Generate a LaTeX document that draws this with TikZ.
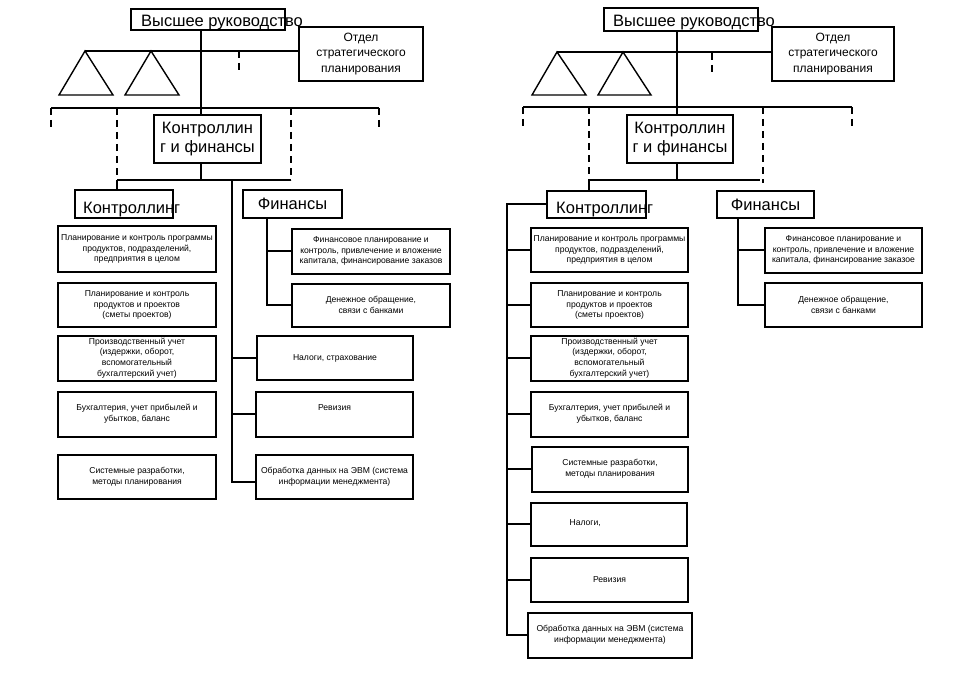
\documentclass[tikz,border=0pt]{standalone}
\usepackage{fontspec}
\setmainfont{Liberation Sans}
\usepackage{tikz}

\begin{document}
\begin{tikzpicture}[x=1pt,y=-1pt,
  box/.style={draw,line width=2pt,inner sep=0pt},
  bigtxt/.style={font=\fontsize{16.5}{19.5}\selectfont,align=center},
  midtxt/.style={font=\fontsize{12}{15.5}\selectfont,align=center},
  smalltxt/.style={font=\fontsize{8.6}{10.8}\selectfont,align=center},
  itembox/.style={box,smalltxt,minimum width=158pt,minimum height=45pt},
  conn/.style={line width=2pt},
  dconn/.style={line width=1.8pt,dash pattern=on 7pt off 5pt},
  tri/.style={line width=1.4pt}]
  \useasboundingbox (0,0) rectangle (958,682);

  % left chart, top
  \node[box,minimum width=154pt,minimum height=21pt] (Ltop) at (208,19.5) {};
  \node[bigtxt,anchor=base west,inner sep=0pt] (Ltoptxt) at (141,26.5) {Высшее руководство};
  \node[box,midtxt,minimum width=124pt,minimum height=54pt] (Lotd) at (361,54)
    {Отдел\\стратегического\\планирования};
  \coordinate (Lx) at (201,0);
  \coordinate (La1) at (85,51);
  \coordinate (La2) at (151,51);
  \draw[tri] (59,95) -- (La1) -- (113,95) -- cycle;
  \draw[tri] (125,95) -- (La2) -- (179,95) -- cycle;
  \draw[conn] (La1) -- (La1 -| Lotd.west);
  \draw[dconn] (239,51) -- (239,72);
  \coordinate (Lb1) at (51,108);
  \coordinate (Lb2) at (379,108);
  \draw[conn] (Lb1) -- (Lb2);
  \draw[dconn] (Lb1) -- ++(0,22);
  \draw[dconn] (Lb2) -- ++(0,22);
  \node[box,bigtxt,minimum width=107pt,minimum height=48pt] (Lkf) at (207.5,139)
    {Контроллин\\г и финансы};
  \draw[conn] (Ltop.south -| Lx) -- (Lkf.north -| Lx);
  \coordinate (Lh1) at (117,180);
  \coordinate (Lh2) at (291,180);
  \draw[dconn] (117,108) -- (Lh1);
  \draw[dconn] (291,108) -- (Lh2);
  \draw[conn] (Lkf.south -| Lx) -- (Lh1 -| Lx);
  \draw[conn] (Lh1) -- (Lh2);
  \node[box,minimum width=98pt,minimum height=28pt] (Lkon) at (124,204) {};
  \node[bigtxt,anchor=base west,inner sep=0pt] (Lkontxt) at (83,213) {Контроллинг};
  \draw[conn] (Lh1) -- (Lh1 |- Lkon.north);
  \node[box,bigtxt,minimum width=99pt,minimum height=28pt] (Lfin) at (292.5,204) {Финансы};

  % left chart, bottom
  \node[itembox,minimum height=46pt] (Lc1) at (137,249)
    {Планирование и контроль программы\\продуктов, подразделений,\\предприятия в целом};
  \node[itembox,minimum height=44pt] (Lc2) at (137,305)
    {Планирование и контроль\\продуктов и проектов\\(сметы проектов)};
  \node[itembox] (Lc3) at (137,358)
    {Производственный учет\\(издержки, оборот,\\вспомогательный\\бухгалтерский учет)};
  \node[itembox] (Lc4) at (137,414) {Бухгалтерия, учет прибылей и\\убытков, баланс};
  \node[itembox,minimum height=44pt] (Lc5) at (137,477) {Системные разработки,\\методы планирования};
  \node[itembox] (Lf1) at (371,251)
    {Финансовое планирование и\\контроль, привлечение и вложение\\капитала, финансирование заказов};
  \node[itembox,minimum height=43pt] (Lf2) at (371,305) {Денежное обращение,\\связи с банками};
  \coordinate (Lfv) at (267,305);
  \draw[conn] (Lfin.south -| Lfv) -- (Lfv) -- (Lf2.west);
  \draw[conn] (Lf1.west -| Lfv) -- (Lf1.west);
  \node[itembox,minimum width=156pt,minimum height=44pt] (Lnal) at (335,358) {Налоги, страхование};
  \node[itembox,minimum width=157pt] (Lrev) at (334.5,414) {};
  \node[smalltxt] (Lrevtxt) at (334.5,408) {Ревизия};
  \node[itembox,minimum width=157pt,minimum height=44pt] (Lobr) at (334.5,477)
    {Обработка данных на ЭВМ (система\\информации менеджмента)};
  \coordinate (Lmv) at (232,482);
  \draw[conn] (Lh1 -| Lmv) -- (Lmv) -- (Lmv -| Lobr.west);
  \draw[conn] (Lnal.west -| Lmv) -- (Lnal.west);
  \draw[conn] (Lrev.west -| Lmv) -- (Lrev.west);

  % right chart, top
  \node[box,minimum width=154pt,minimum height=23pt] (Rtop) at (681,19.5) {};
  \node[bigtxt,anchor=base west,inner sep=0pt] (Rtoptxt) at (613,26.5) {Высшее руководство};
  \node[box,midtxt,minimum width=122pt,minimum height=54pt] (Rotd) at (833,54)
    {Отдел\\стратегического\\планирования};
  \coordinate (Rx) at (677,0);
  \coordinate (Ra1) at (557,52);
  \coordinate (Ra2) at (623,52);
  \draw[tri] (532,95) -- (Ra1) -- (586,95) -- cycle;
  \draw[tri] (598,95) -- (Ra2) -- (651,95) -- cycle;
  \draw[conn] (Ra1) -- (Ra1 -| Rotd.west);
  \draw[dconn] (712,53) -- (712,72);
  \coordinate (Rb1) at (523,107);
  \coordinate (Rb2) at (852,107);
  \draw[conn] (Rb1) -- (Rb2);
  \draw[dconn] (Rb1) -- ++(0,22);
  \draw[dconn] (Rb2) -- ++(0,22);
  \node[box,bigtxt,minimum width=106pt,minimum height=48pt] (Rkf) at (680,139)
    {Контроллин\\г и финансы};
  \draw[conn] (Rtop.south -| Rx) -- (Rkf.north -| Rx);
  \coordinate (Rh1) at (589,180);
  \coordinate (Rh2) at (760,180);
  \draw[dconn] (589,107) -- (Rh1);
  \draw[dconn] (763,107) -- (763,183);
  \draw[conn] (Rkf.south -| Rx) -- (Rh1 -| Rx);
  \draw[conn] (Rh1) -- (Rh2);
  \node[box,minimum width=99pt,minimum height=27pt] (Rkon) at (596.5,204) {};
  \node[bigtxt,anchor=base west,inner sep=0pt] (Rkontxt) at (556,213) {Контроллинг};
  \draw[conn] (Rh1) -- (Rh1 |- Rkon.north);
  \node[box,bigtxt,minimum width=97pt,minimum height=27pt] (Rfin) at (765.5,204.5) {Финансы};

  % right chart, bottom
  \node[itembox,minimum width=157pt,minimum height=44pt] (Rc1) at (609.5,250)
    {Планирование и контроль программы\\продуктов, подразделений,\\предприятия в целом};
  \node[itembox,minimum width=157pt,minimum height=44pt] (Rc2) at (609.5,305)
    {Планирование и контроль\\продуктов и проектов\\(сметы проектов)};
  \node[itembox,minimum width=157pt] (Rc3) at (609.5,358)
    {Производственный учет\\(издержки, оборот,\\вспомогательный\\бухгалтерский учет)};
  \node[itembox,minimum width=157pt] (Rc4) at (609.5,414) {Бухгалтерия, учет прибылей и\\убытков, баланс};
  \node[itembox,minimum width=156pt] (Rc5) at (610,469) {Системные разработки,\\методы планирования};
  \node[itembox,minimum width=156pt,minimum height=43pt] (Rc6) at (609,524) {};
  \node[smalltxt,anchor=west] (Rc6txt) at (566,523) {Налоги,};
  \node[itembox,minimum width=157pt,minimum height=44pt] (Rc7) at (609.5,580) {Ревизия};
  \node[itembox,minimum width=164pt] (Rc8) at (610,635)
    {Обработка данных на ЭВМ (система\\информации менеджмента)};
  \coordinate (Rmv) at (507,635);
  \draw[conn] (Rkon.west) -| (Rmv) -- (Rc8.west);
  \draw[conn] (Rc1.west -| Rmv) -- (Rc1.west);
  \draw[conn] (Rc2.west -| Rmv) -- (Rc2.west);
  \draw[conn] (Rc3.west -| Rmv) -- (Rc3.west);
  \draw[conn] (Rc4.west -| Rmv) -- (Rc4.west);
  \draw[conn] (Rc5.west -| Rmv) -- (Rc5.west);
  \draw[conn] (Rc6.west -| Rmv) -- (Rc6.west);
  \draw[conn] (Rc7.west -| Rmv) -- (Rc7.west);
  \node[itembox,minimum width=157pt] (Rf1) at (843.5,250)
    {Финансовое планирование и\\контроль, привлечение и вложение\\капитала, финансирование заказое};
  \node[itembox,minimum width=157pt,minimum height=44pt] (Rf2) at (843.5,305) {Денежное обращение,\\связи с банками};
  \coordinate (Rfv) at (738,305);
  \draw[conn] (Rfin.south -| Rfv) -- (Rfv) -- (Rf2.west);
  \draw[conn] (Rf1.west -| Rfv) -- (Rf1.west);
\end{tikzpicture}
\end{document}
